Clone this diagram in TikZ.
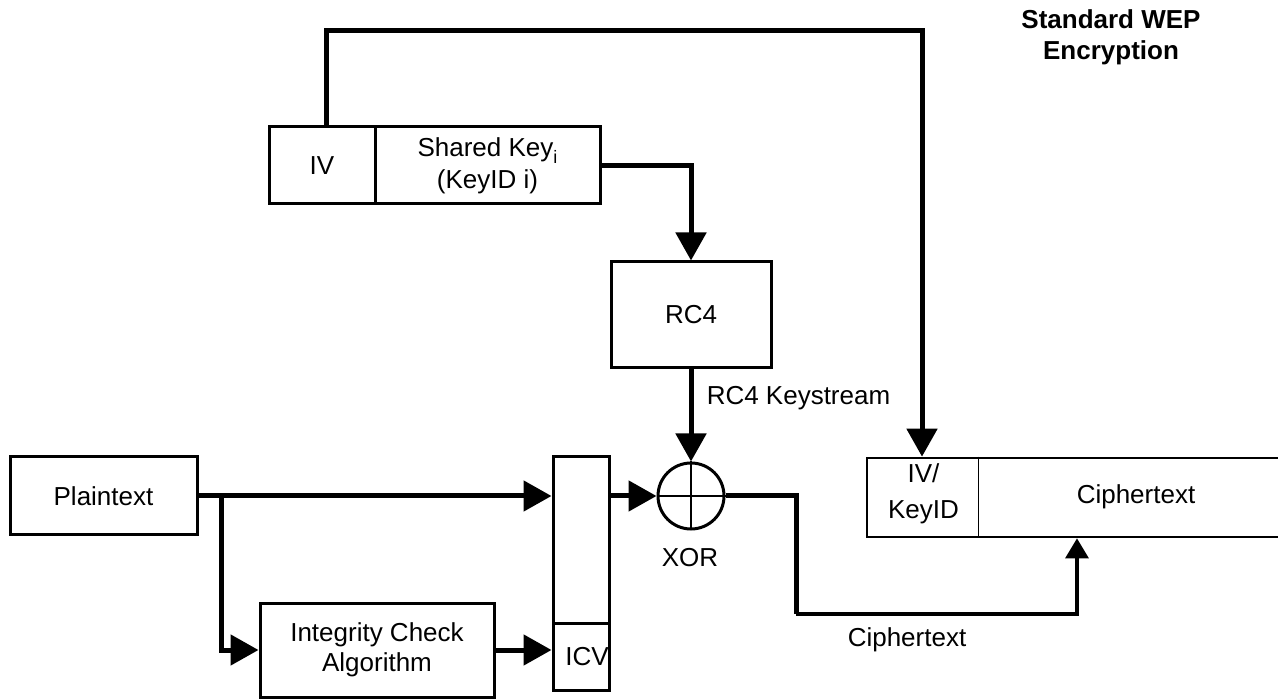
\documentclass[tikz,border=0pt]{standalone}
\usepackage{fontspec}
\setmainfont{Liberation Sans}
\usetikzlibrary{arrows.meta,calc}
\begin{document}
\begin{tikzpicture}[x=1pt,y=-1pt,
  txt/.style={font=\fontsize{26}{30}\selectfont, inner sep=0pt, align=center},
  box/.style={draw, line width=3pt, inner sep=0pt, font=\fontsize{26}{30}\selectfont, align=center},
  heavy/.style={line width=5pt},
  thinline/.style={line width=1.5pt},
  bigarrow/.style={line width=5pt, -{Triangle[length=28pt,width=30pt]}},
  smallarrow/.style={line width=3.3pt, -{Triangle[length=20pt,width=23pt]}},
]
\useasboundingbox (0,0) rectangle (1278,700);
\clip (0,0) rectangle (1278,700);

% boxes
\node[box, minimum width=106pt, minimum height=77pt] (iv) at (322,165.5) {IV};
\node[box, minimum width=225pt, minimum height=77pt, font=\fontsize{26}{32}\selectfont] (key) at (487.5,165.5) {Shared Key\raisebox{-7pt}{\fontsize{18}{18}\selectfont i}\\(KeyID i)};
\node[box, minimum width=160pt, minimum height=106pt] (rc4) at (691,315) {RC4};
\node[box, minimum width=187pt, minimum height=78pt] (plain) at (103.5,496) {Plaintext};
\node[box, minimum width=234pt, minimum height=94pt] (integ) at (377,650) {Integrity Check\\Algorithm};
\node[box, minimum width=56pt, minimum height=166pt] (data) at (581,540) {};
\node[box, minimum width=56pt, minimum height=67pt] (icv) at (581,656.5) {\hspace*{12pt}ICV};
\node[draw, circle, line width=3pt, minimum size=66pt, inner sep=0pt] (xor) at (691,496) {};
\draw[thinline] (xor.north) -- (xor.south) (xor.west) -- (xor.east);

% packet
\node[draw, line width=2.7pt, minimum width=425pt, minimum height=79pt, inner sep=0pt] (pkt) at (1079.5,497.5) {};
\node[txt, font=\fontsize{26}{36}\selectfont] (ivk) at (923.5,493.5) {IV/\\KeyID};
\node[txt] (ctext) at (1136,497) {Ciphertext};
\draw[thinline] ($(pkt.north west)+(113,0)$) -- ($(pkt.south west)+(113,0)$);

% labels
\node[txt] (kslbl) at (798.5,398) {RC4 Keystream};
\node[txt] (xorlbl) at (690,558) {XOR};
\node[txt] (ctlbl) at (907,640) {Ciphertext};
\node[txt, font=\bfseries\fontsize{26}{31}\selectfont] (title) at (1111,37.5) {Standard WEP\\Encryption};

% connectors
\coordinate (tr) at (922,31);
\draw[bigarrow] ([xshift=4pt]iv.north) |- (tr) -- (tr |- pkt.north);
\draw[bigarrow] (key.east) -| (rc4.north);
\draw[bigarrow] (rc4.south) -- (xor.north);
\draw[bigarrow] (plain.east) -- (plain.east -| data.west);
\draw[bigarrow] ([xshift=23pt]plain.east) |- (integ.west);
\draw[bigarrow] (integ.east) -- (integ.east -| icv.west);
\draw[bigarrow] (xor.west -| data.east) -- (xor.west);
\coordinate (c1) at (796,614);
\draw[heavy] (xor.east) -| (c1);
\draw[smallarrow] (c1) -| ([xshift=-2.5pt]pkt.south);
\end{tikzpicture}
\end{document}
